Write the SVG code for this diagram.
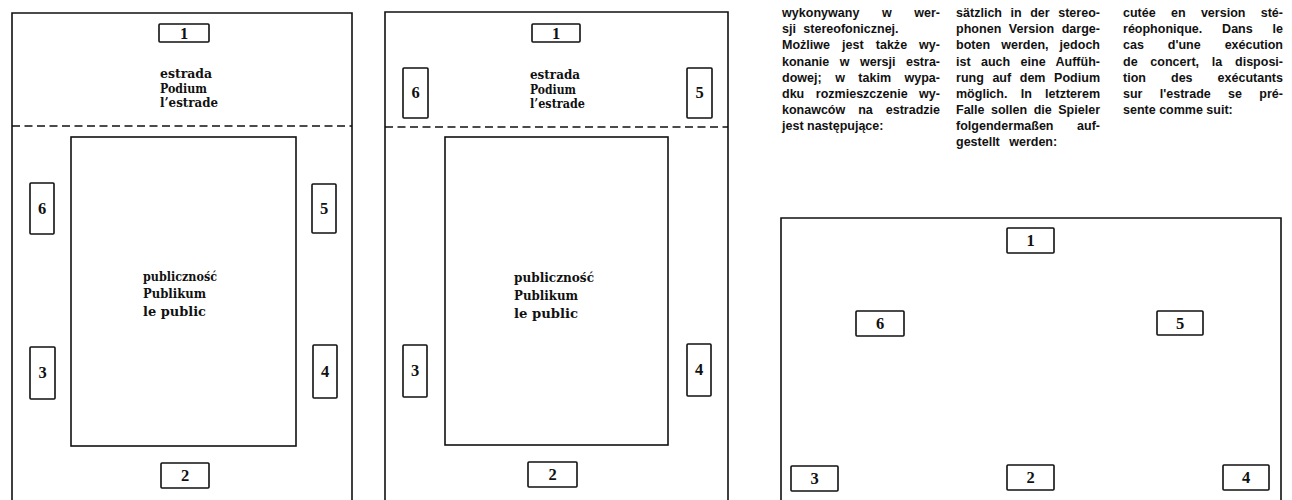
<svg xmlns="http://www.w3.org/2000/svg" width="1292" height="500" viewBox="0 0 1292 500">
<style>
.frame{fill:none;stroke:#111;stroke-width:1.6}
.dash{fill:none;stroke:#111;stroke-width:1.4;stroke-dasharray:8 4.5}
.box{fill:#fff;stroke:#111;stroke-width:1.6}
.num{font-family:"Liberation Serif","Times New Roman",serif;font-weight:bold;font-size:16.5px;fill:#111;text-anchor:middle}
.lbl{font-family:"DejaVu Serif","Liberation Serif",serif;font-weight:bold;font-size:12px;fill:#111}
.body{font-family:"Liberation Sans",Arial,sans-serif;font-weight:bold;font-size:12.5px;fill:#111}
</style>
<rect width="1292" height="500" fill="#fff"/>

<g id="panel-left">
  <path class="frame" d="M12,500 V13 H352 V500"/>
  <line class="dash" x1="12" y1="126" x2="352" y2="126"/>
  <rect class="frame" x="71" y="137" width="225" height="309"/>
  <text class="lbl" x="160" y="78" textLength="52" lengthAdjust="spacingAndGlyphs">estrada</text>
  <text class="lbl" x="160" y="93" textLength="47" lengthAdjust="spacingAndGlyphs">Podium</text>
  <text class="lbl" x="160" y="107" textLength="58" lengthAdjust="spacingAndGlyphs">l’estrade</text>
  <text class="lbl" x="143" y="281" textLength="74" lengthAdjust="spacingAndGlyphs">publiczność</text>
  <text class="lbl" x="143" y="298" textLength="63" lengthAdjust="spacingAndGlyphs">Publikum</text>
  <text class="lbl" x="143" y="316" textLength="63" lengthAdjust="spacingAndGlyphs">le  public</text>
</g>
<g id="L1"><rect class="box" x="159" y="24" width="50" height="18" rx="1"/><text class="num" x="184" y="39">1</text></g>
<g id="L2"><rect class="box" x="161" y="463" width="48" height="25" rx="1"/><text class="num" x="185" y="481">2</text></g>
<g id="L3"><rect class="box" x="30" y="347" width="25" height="52" rx="1"/><text class="num" x="42.5" y="378">3</text></g>
<g id="L4"><rect class="box" x="313" y="345" width="24" height="53" rx="1"/><text class="num" x="325" y="377">4</text></g>
<g id="L5"><rect class="box" x="312" y="184" width="24" height="49" rx="1"/><text class="num" x="324" y="214">5</text></g>
<g id="L6"><rect class="box" x="30" y="183" width="24" height="51" rx="1"/><text class="num" x="42" y="214">6</text></g>

<g id="panel-middle">
  <path class="frame" d="M385,500 V12 H728 V500"/>
  <line class="dash" x1="385" y1="127" x2="728" y2="127"/>
  <rect class="frame" x="445" y="137" width="223" height="308"/>
  <text class="lbl" x="530" y="79" textLength="50" lengthAdjust="spacingAndGlyphs">estrada</text>
  <text class="lbl" x="530" y="94" textLength="46" lengthAdjust="spacingAndGlyphs">Podium</text>
  <text class="lbl" x="530" y="108" textLength="55" lengthAdjust="spacingAndGlyphs">l’estrade</text>
  <text class="lbl" x="514" y="282" textLength="80" lengthAdjust="spacingAndGlyphs">publiczność</text>
  <text class="lbl" x="514" y="300" textLength="64" lengthAdjust="spacingAndGlyphs">Publikum</text>
  <text class="lbl" x="514" y="318" textLength="64" lengthAdjust="spacingAndGlyphs">le  public</text>
</g>
<g id="M1"><rect class="box" x="532" y="24" width="48" height="18" rx="1"/><text class="num" x="556" y="39">1</text></g>
<g id="M2"><rect class="box" x="528" y="462" width="49" height="25" rx="1"/><text class="num" x="552.5" y="480">2</text></g>
<g id="M3"><rect class="box" x="403" y="345" width="24" height="52" rx="1"/><text class="num" x="415" y="376">3</text></g>
<g id="M4"><rect class="box" x="687" y="344" width="24" height="52" rx="1"/><text class="num" x="699" y="375">4</text></g>
<g id="M5"><rect class="box" x="687" y="68" width="25" height="50" rx="1"/><text class="num" x="699.5" y="98">5</text></g>
<g id="M6"><rect class="box" x="403" y="68" width="25" height="50" rx="1"/><text class="num" x="415.5" y="98">6</text></g>

<g id="panel-right">
  <path class="frame" d="M781,500 V218 H1281 V500"/>
</g>
<g id="R1"><rect class="box" x="1007" y="228" width="47" height="25" rx="1"/><text class="num" x="1030.5" y="246">1</text></g>
<g id="R2"><rect class="box" x="1007" y="465" width="47" height="25" rx="1"/><text class="num" x="1030.5" y="483">2</text></g>
<g id="R3"><rect class="box" x="791" y="466" width="47" height="25" rx="1"/><text class="num" x="814.5" y="484">3</text></g>
<g id="R4"><rect class="box" x="1223" y="465" width="46" height="25" rx="1"/><text class="num" x="1246" y="483">4</text></g>
<g id="R5"><rect class="box" x="1157" y="311" width="46" height="24" rx="1"/><text class="num" x="1180" y="329">5</text></g>
<g id="R6"><rect class="box" x="856" y="311" width="48" height="25" rx="1"/><text class="num" x="880" y="329">6</text></g>

<g id="connectors"/>

<g id="text-pl">
  <text class="body" x="782" y="17" word-spacing="19" textLength="158" lengthAdjust="spacing">wykonywany w wer-</text>
  <text class="body" x="782" y="33" word-spacing="4">sji stereofonicznej.</text>
  <text class="body" x="782" y="49" word-spacing="8.5" textLength="158" lengthAdjust="spacing">Możliwe jest także wy-</text>
  <text class="body" x="782" y="65.5" word-spacing="7" textLength="158" lengthAdjust="spacing">konanie w wersji estra-</text>
  <text class="body" x="782" y="81.5" word-spacing="10" textLength="158" lengthAdjust="spacing">dowej; w takim wypa-</text>
  <text class="body" x="782" y="97.5" word-spacing="8" textLength="158" lengthAdjust="spacing">dku rozmieszczenie wy-</text>
  <text class="body" x="782" y="113.5" word-spacing="9.5" textLength="158" lengthAdjust="spacing">konawców na estradzie</text>
  <text class="body" x="782" y="129.5">jest następujące:</text>
</g>
<g id="text-de">
  <text class="body" x="956" y="17" word-spacing="5" textLength="144" lengthAdjust="spacing">sätzlich in der stereo-</text>
  <text class="body" x="956" y="33" word-spacing="4" textLength="144" lengthAdjust="spacing">phonen Version darge-</text>
  <text class="body" x="956" y="49" word-spacing="7.5" textLength="144" lengthAdjust="spacing">boten werden, jedoch</text>
  <text class="body" x="956" y="65.5" word-spacing="6.8" textLength="144" lengthAdjust="spacing">ist auch eine Auffüh-</text>
  <text class="body" x="956" y="81.5" word-spacing="5" textLength="144" lengthAdjust="spacing">rung auf dem Podium</text>
  <text class="body" x="956" y="97.5" word-spacing="9.8" textLength="144" lengthAdjust="spacing">möglich. In letzterem</text>
  <text class="body" x="956" y="113.5" word-spacing="3" textLength="144" lengthAdjust="spacing">Falle sollen die Spieler</text>
  <text class="body" x="956" y="129.5" word-spacing="20" textLength="144" lengthAdjust="spacing">folgendermaßen auf-</text>
  <text class="body" x="956" y="145.5" word-spacing="6">gestellt werden:</text>
</g>
<g id="text-fr">
  <text class="body" x="1123" y="17" word-spacing="11.8" textLength="160" lengthAdjust="spacing">cutée en version sté-</text>
  <text class="body" x="1123" y="33" word-spacing="16.4" textLength="160" lengthAdjust="spacing">réophonique. Dans le</text>
  <text class="body" x="1123" y="49" word-spacing="20.5" textLength="160" lengthAdjust="spacing">cas d'une exécution</text>
  <text class="body" x="1123" y="65.5" word-spacing="9.3" textLength="160" lengthAdjust="spacing">de concert, la disposi-</text>
  <text class="body" x="1123" y="81.5" word-spacing="21.5" textLength="160" lengthAdjust="spacing">tion des exécutants</text>
  <text class="body" x="1123" y="97.5" word-spacing="13.8" textLength="160" lengthAdjust="spacing">sur l'estrade se pré-</text>
  <text class="body" x="1123" y="113.5">sente comme suit:</text>
</g>
</svg>
